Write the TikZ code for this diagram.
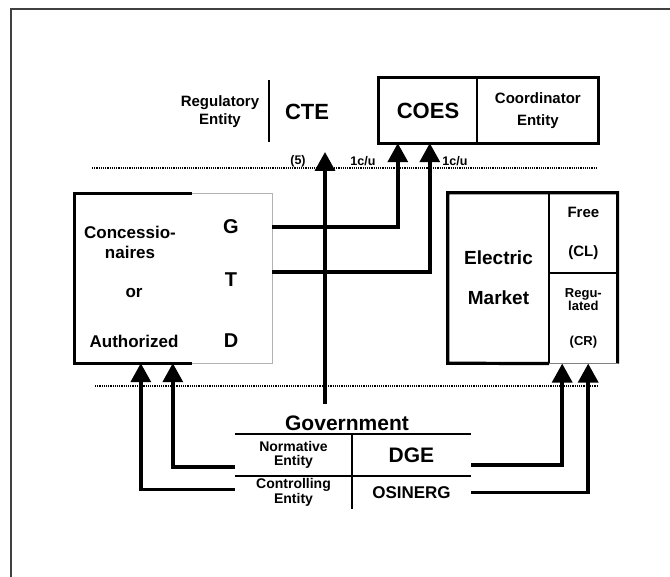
\documentclass[tikz,border=0pt]{standalone}
\usepackage{fontspec}
\setmainfont{Liberation Sans}
\usetikzlibrary{arrows.meta,positioning}

\tikzset{
  lbl/.style={font=\bfseries\fontsize{15}{18}\selectfont, align=center, inner sep=1pt},
  tight/.style={font=\bfseries\fontsize{14}{14.5}\selectfont, align=center, inner sep=1pt},
  mid/.style={font=\bfseries\fontsize{17}{20}\selectfont, align=center, inner sep=1pt},
  big/.style={font=\bfseries\fontsize{22}{24}\selectfont, inner sep=1pt},
  tag/.style={font=\bfseries\fontsize{12.5}{14}\selectfont, inner sep=1pt},
  arr/.style={line width=3.5pt, -{Triangle[width=20pt,length=19pt]}},
  thickbox/.style={line width=3.2pt},
  sep/.style={densely dotted, line width=1.2pt},
}

\begin{document}
\begin{tikzpicture}[x=1pt, y=-1pt]
\useasboundingbox (0,0) rectangle (670,577);
% frame
\draw[line width=1.3pt, black!75] (11,577) -- (11,9) -- (670,9);

% top row
\node[lbl] (reg) at (220,112) {Regulatory\\Entity};
\draw[line width=1.5pt] (269,80) -- (269,142);
\node[big] (cte) at (307,112) {CTE};
\node[big, minimum width=98, minimum height=65] (coes) at (428,110.5) {COES};
\node[lbl, minimum width=121, minimum height=65, right=0pt of coes] (coord) {Coordinator\\[4pt]Entity};
\draw[thickbox] (coes.north west) rectangle (coord.south east);
\draw[line width=1.5pt] (coes.north east) -- (coes.south east);

% dotted separators
\draw[sep] (92,168) -- (596,168);
\draw[sep] (95,386) -- (597,386);

% concessionaires
\node[minimum width=197, minimum height=169] (cbox) at (173.5,278.5) {};
\draw[gray!60, line width=0.8pt] (cbox.north west) rectangle (cbox.south east);
\draw[thickbox] ([xshift=117]cbox.north west) -- (cbox.north west) -- (cbox.south west) -- ([xshift=117]cbox.south west);
\node[mid] (conc) at (130,242) {Concessio-\\naires};
\node[mid] (or) at (134,293) {or};
\node[mid] (auth) at (134,341) {Authorized};
\node[big, font=\bfseries\fontsize{20}{22}\selectfont] (G) at (231,227) {G};
\node[big, font=\bfseries\fontsize{20}{22}\selectfont] (T) at (231,280) {T};
\node[big, font=\bfseries\fontsize{20}{22}\selectfont] (D) at (231,341) {D};

% electric market
\node[mid, font=\bfseries\fontsize{19}{20}\selectfont, minimum width=101, minimum height=170] (em) at (498.5,278) {Electric\\[20pt]Market};
\node[lbl, minimum width=68, minimum height=80, anchor=north west] (fr) at (em.north east) {Free\\[21pt](CL)};
\node[tight, font=\bfseries\fontsize{13}{13}\selectfont, minimum width=68, minimum height=90, anchor=north west] (rg) at (fr.south west) {Regu-\\lated\\[22pt](CR)};
\draw[thickbox] (rg.south west) -- (em.south west) -- (em.north west) -- (fr.north east) -- (rg.south east);
\draw[line width=2pt] (em.north east) -- (em.south east);
\draw[line width=1.5pt] (fr.south west) -- (fr.south east);
\draw[gray, line width=0.8pt] (rg.south west) -- (rg.south east);

% government
\node[big, font=\bfseries\fontsize{21}{24}\selectfont] (gov) at (347,423) {Government};
\node[tight, minimum width=117, minimum height=42] (nrm) at (293.5,455) {Normative\\Entity};
\node[big, font=\bfseries\fontsize{21}{24}\selectfont, minimum width=119, minimum height=42] (dge) at (411.5,455) {DGE};
\node[tight, minimum width=117, minimum height=33] (ctl) at (293.5,492.5) {Controlling\\Entity};
\node[big, font=\bfseries\fontsize{17}{20}\selectfont, minimum width=119, minimum height=33] (osi) at (411.5,492.5) {OSINERG};
\draw[line width=1.5pt] (nrm.north west) -- (dge.north east);
\draw[line width=1.5pt] (nrm.south west) -- (dge.south east);
\draw[line width=1.5pt] (dge.north west) -- (osi.south west);

% links
\coordinate (govtop) at ([yshift=10]gov.north);
\coordinate (ctein) at (325,152);
\draw[arr] (ctein |- govtop) -- (ctein);
\node[tag] (l5) at (298,161) {(5)};
\node[tag] (lg) at (363,161) {1c/u};
\node[tag] (lt) at (455,161) {1c/u};
\draw[arr] (cbox.east |- G) -| ([xshift=19]coes.south west);
\draw[arr] (cbox.east |- T.north) -| ([xshift=51]coes.south west);
\draw[arr] ([yshift=-12]nrm.west) -| ([xshift=98]cbox.south west);
\draw[arr] ([yshift=3]ctl.west) -| ([xshift=66]cbox.south west);
\draw[arr] ([yshift=-10]dge.east) -| ([xshift=13]rg.south west);
\draw[arr] (osi.east) -| ([xshift=39]rg.south west);
\end{tikzpicture}
\end{document}
